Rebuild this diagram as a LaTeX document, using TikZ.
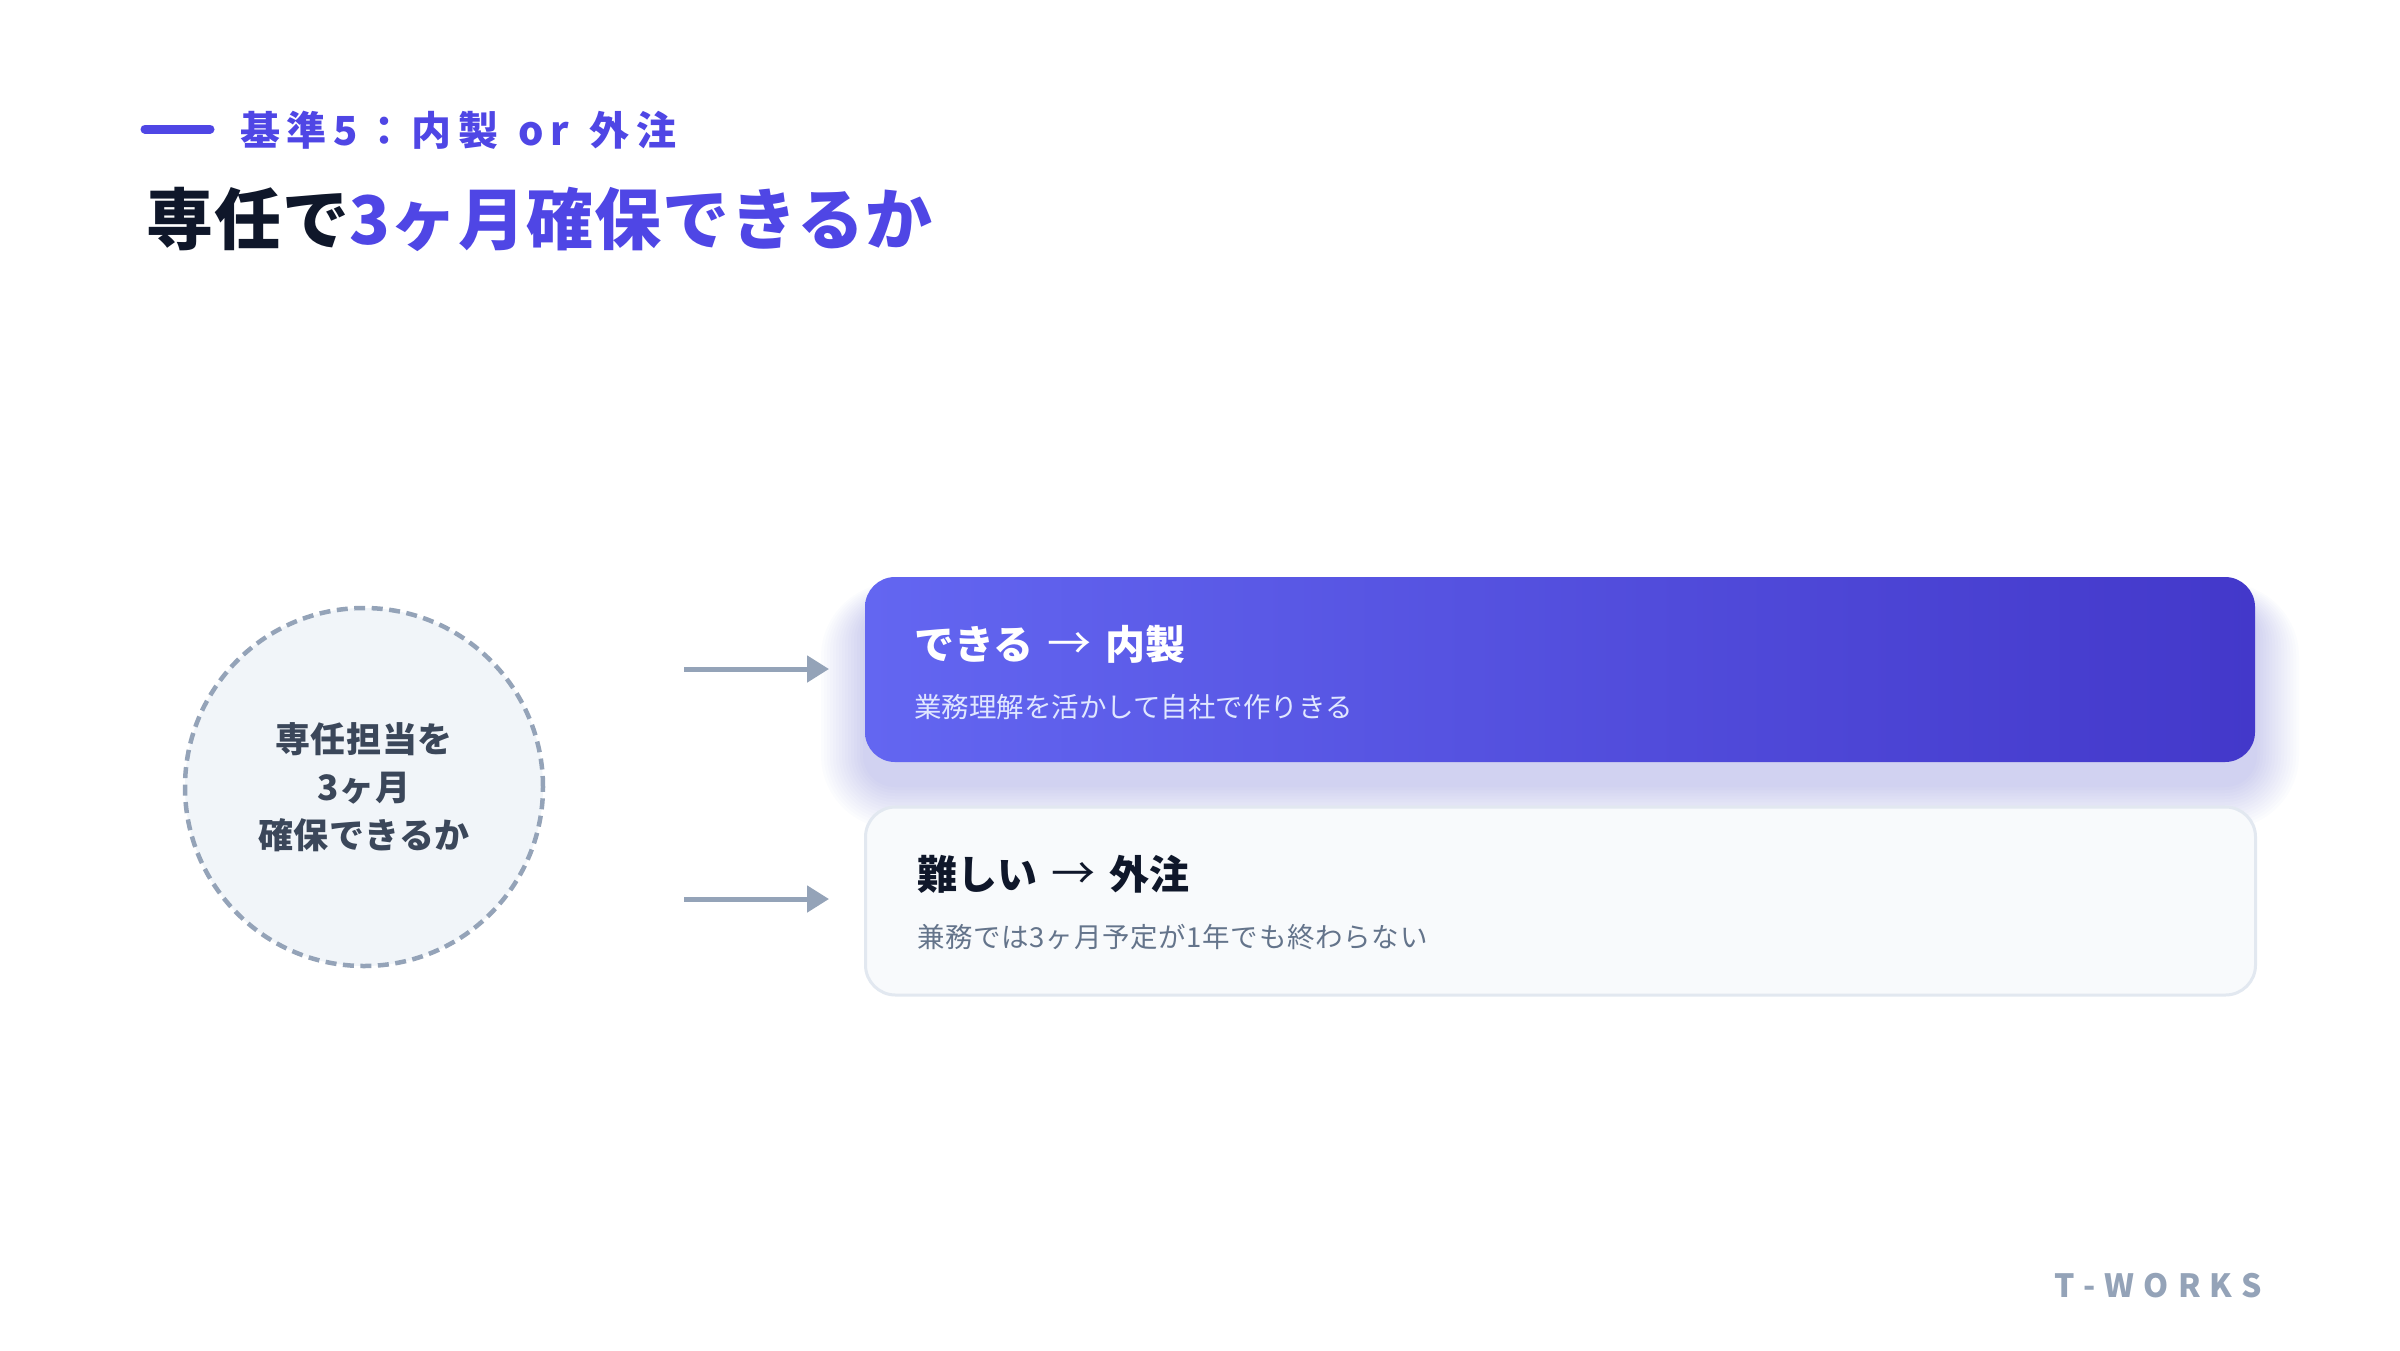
\documentclass[tikz,border=0pt]{standalone}
\usepackage{fontspec}
\setmainfont{Noto Sans CJK JP}
\newfontfamily\jpfont{Noto Sans CJK JP}
\usetikzlibrary{arrows.meta}
\definecolor{indigoA}{HTML}{4F46E5}
\definecolor{indigoL}{HTML}{6366F1}
\definecolor{indigoD}{HTML}{4338CA}
\definecolor{inkdark}{HTML}{0F172A}
\definecolor{slatetext}{HTML}{3B475A}
\definecolor{slatesub}{HTML}{64748B}
\definecolor{slateline}{HTML}{94A3B8}
\definecolor{slatefill}{HTML}{F1F5F9}
\definecolor{cardfill}{HTML}{F8FAFC}
\definecolor{cardline}{HTML}{E2E8F0}
\definecolor{subwhite}{HTML}{E0E7FF}
\newcommand\fsz[1]{\fontsize{#1}{#1}\selectfont}
\newcommand\thinarrow{\hspace{14pt}{\mdseries\fontsize{44}{44}\selectfont →}\hspace{14pt}}
\tikzset{
  arr/.style={draw=slateline, line width=5pt, -{Triangle[length=22pt,width=26pt]}},
  cardbox/.style={rounded corners=30pt, minimum width=1390pt, inner sep=0pt},
  ttl/.style={anchor=west, inner sep=0pt, font=\fsz{40}\bfseries},
  sub/.style={anchor=west, inner sep=0pt, font=\fsz{27.5}},
}
\begin{document}
\begin{tikzpicture}[x=1pt,y=-1pt]
\useasboundingbox (0,0) rectangle (2400,1350);
\fill[white] (0,0) rectangle (2400,1350);

% header
\coordinate (barL) at (145,129);
\coordinate (barR) at (210,129);
\draw[indigoA, line width=9pt, line cap=round] (barL) -- (barR);
\node[anchor=west, inner sep=0pt, text=indigoA, font=\fsz{40}\bfseries\addfontfeatures{LetterSpace=17}] (kicker) at (240,130) {基準5：内製\hspace{4pt} or\hspace{4pt} 外注};
\node[anchor=west, inner sep=0pt, text=inkdark, font=\fsz{67}\bfseries\addfontfeatures{LetterSpace=1.5}] (title) at (146,219) {専任で\textcolor{indigoA}{3ヶ月確保できるか}};

% circle
\node[circle, minimum size=358pt, fill=slatefill, draw=slateline, line width=4.5pt,
      dash pattern=on 11pt off 6.5pt, align=center, text=slatetext,
      font=\fontsize{35}{48}\selectfont\bfseries\addfontfeatures{LetterSpace=1.5}] (q) at (364,787) {専任担当を\\3ヶ月\\確保できるか};

% glow under the upper card
\foreach \g in {2,5,...,44} {
  \fill[indigoL, opacity=0.018, rounded corners=30pt+\g pt]
    (865-\g,605-0.5*\g) rectangle (2255+\g,785+\g);
}

% cards
\node[cardbox, minimum height=185pt, left color=indigoL, right color=indigoD] (yes) at (1560,669.5) {};
\node[cardbox, minimum height=188pt, fill=cardfill, draw=cardline, line width=3pt] (no) at (1560.5,901) {};

\node[ttl, text=white] (yesT) at (914,644) {できる\thinarrow 内製};
\node[sub, text=subwhite] (yesS) at (914,707) {業務理解を活かして自社で作りきる};
\node[ttl, text=inkdark] (noT) at (917,874) {難しい\thinarrow 外注};
\node[sub, text=slatesub, font=\fsz{27.5}\addfontfeatures{LetterSpace=2.5}] (noS) at (917,937) {兼務では3ヶ月予定が1年でも終わらない};

% arrows
\coordinate (a1s) at (684,669);
\coordinate (a1e) at (829,669);
\coordinate (a2s) at (684,899);
\coordinate (a2e) at (829,899);
\draw[arr] (a1s) -- (a1e);
\draw[arr] (a2s) -- (a2e);

% footer
\node[anchor=west, inner sep=0pt, text=slateline, font=\fsz{32}\bfseries] (brand) at (2054,1286)
  {T\hspace{9pt}-\hspace{9pt}W\hspace{9pt}O\hspace{9pt}R\hspace{9pt}K\hspace{9pt}S};
\end{tikzpicture}
\end{document}
